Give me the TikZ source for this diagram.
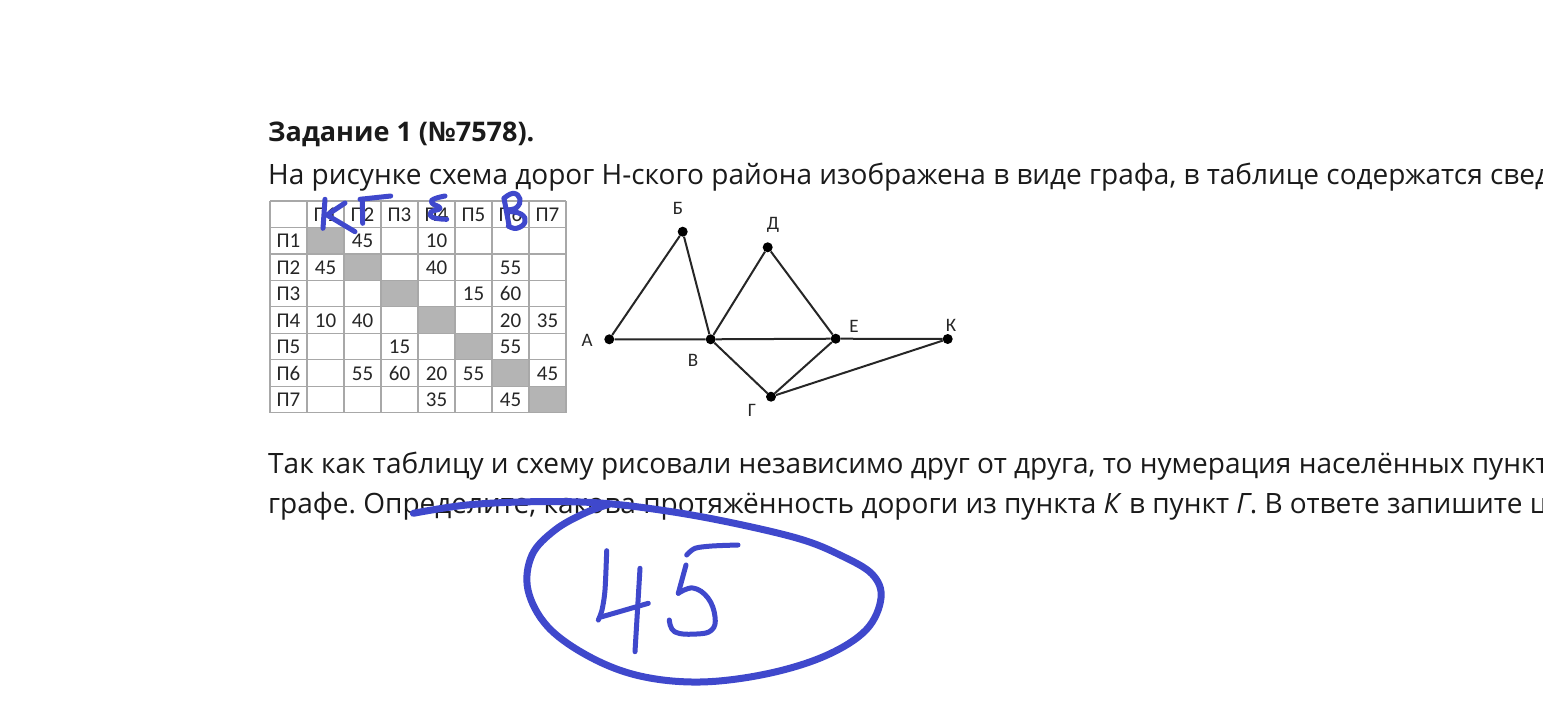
\documentclass[tikz,border=0pt]{standalone}
\usepackage{fontspec}
\setmainfont{Open Sans}
\newfontfamily\calib{Carlito}
\definecolor{ink}{HTML}{3F48CC}
\definecolor{tgray}{HTML}{A8A8A8}
\definecolor{cellgray}{HTML}{B4B4B4}
\definecolor{txt}{HTML}{1A1A1A}
\frenchspacing
\begin{document}
\begin{tikzpicture}[x=1pt,y=-1pt,
  body/.style={anchor=base west,inner sep=0pt,font=\fontsize{28}{30}\selectfont,text=txt},
  head/.style={anchor=base west,inner sep=0pt,font=\fontsize{27}{30}\selectfont\bfseries,text=txt},
  cell/.style={anchor=base,inner sep=0pt,font=\calib\fontsize{21}{22}\selectfont,text=black!85},
  dot/.style={circle,fill=black,inner sep=0pt,minimum size=10pt},
  lbl/.style={inner sep=0pt,font=\calib\fontsize{19}{20}\selectfont,text=black!85},
  edge/.style={line width=2pt,black!85},
  hand/.style={ink,line width=5pt,line cap=round,line join=round},
  bighand/.style={ink,line width=7pt,line cap=round,line join=round}]
\useasboundingbox (0,0) rectangle (1543,712);
\clip (0,0) rectangle (1543,712);
\fill[white] (0,0) rectangle (1543,712);

% texts
\node[head] (h) at (268,141) {Задание 1 (№7578).};
\node[body] (l1) at (268,184) {На рисунке схема дорог Н-ского района изображена в виде графа, в таблице содержатся сведения о длинах этих дорог (в километрах).};
\node[body] (l2) at (268,473) {Так как таблицу и схему рисовали независимо друг от друга, то нумерация населённых пунктов в таблице никак не связана с буквенными обозначениями на};
\node[body] (l3) at (268,513) {графе. Определите, какова протяжённость дороги из пункта \textit{К} в пункт \textit{Г}. В ответе запишите целое число.};

% table
\foreach \i in {1,...,7} \fill[cellgray] ({270+\i*37},{201+\i*26.45}) rectangle ++(37,26.45);
\foreach \i in {0,...,8} \draw[tgray,line width=1.2pt] ({270+\i*37},201) -- ({270+\i*37},412.6);
\foreach \j in {0,...,8} \draw[tgray,line width=1.2pt] (270,{201+\j*26.45}) -- (566,{201+\j*26.45});
\foreach \c in {1,...,7} \node[cell] (hc\c) at ({270+(\c+0.5)*37},221.5) {П\c};
\foreach \r in {1,...,7} \node[cell] (hr\r) at (288.5,{201+\r*26.45+20.5}) {П\r};
\foreach \r/\c/\v in {1/2/45,1/4/10,2/1/45,2/4/40,2/6/55,3/5/15,3/6/60,4/1/10,4/2/40,4/6/20,4/7/35,5/3/15,5/6/55,6/2/55,6/3/60,6/4/20,6/5/55,6/7/45,7/4/35,7/6/45}
  \node[cell] (v\r-\c) at ({270+(\c+0.5)*37},{201+\r*26.45+20.5}) {\v};

% graph
\node[dot] (A) at (609.3,339.3) {};
\node[dot] (Bb) at (682.7,231.7) {};
\node[dot] (V) at (710.7,339.3) {};
\node[dot] (D) at (767.7,247.3) {};
\node[dot] (E) at (835.7,338.7) {};
\node[dot] (K) at (947.7,339) {};
\node[dot] (G) at (771,396.7) {};
\draw[edge] (A) -- (Bb) -- (V) -- (D) -- (E) -- (K) -- (G) -- (V) -- (A);
\draw[edge] (V) -- (E) -- (G);
\node[lbl] (lA) at (587,340) {А};
\node[lbl] (lB) at (678,208) {Б};
\node[lbl] (lV) at (693,360) {В};
\node[lbl] (lG) at (752,410) {Г};
\node[lbl] (lD) at (773,225) {Д};
\node[lbl] (lE) at (854,326) {Е};
\node[lbl] (lK) at (951,325) {К};

% handwriting above table
\draw[hand] (325,199.3) -- (323,228.3);
\draw[hand] (345,203) -- (327,215) -- (355,231.7);
\draw[hand] (360,199.3) -- (390.7,196);
\draw[hand] (362.3,199.3) -- (362.7,223.3);
\draw[hand] plot[smooth,tension=0.8] coordinates {(445,196) (434,199) (432,203) (440,208.3) (431,212) (433,217.5) (446.7,219.3)};
\draw[hand] (504,198.3) -- (509.3,226.7);
\draw[hand] plot[smooth,tension=0.8] coordinates {(504,198.3) (513.3,193.3) (520,199) (516.7,207.5) (508.3,210.7) (521,214) (525,222) (516.7,228.3) (508.3,226)};

% answer
\draw[bighand] plot[smooth,tension=0.6] coordinates {(413.3,513.3) (466.7,505) (533,501.7) (600,503) (667,511) (733,523) (800,539) (840,555) (872,574) (881,598) (866,630) (825,656) (766,674) (700,682) (640,676) (590,657) (548,627) (528,590) (532,555) (555,530) (585,513) (610,504)};
\draw[hand] plot[smooth] coordinates {(606.7,550.7) (605,590) (602,610) (598.3,620)};
\draw[hand] (601,617) -- (648.3,603.3);
\draw[hand] (640,568.3) -- (635,651.7);
\draw[hand] plot[smooth] coordinates {(686.7,555) (695,548.3) (712,546) (738,545)};
\draw[hand] (686,565) -- (678.3,593.3);
\draw[hand] plot[smooth,tension=0.7] coordinates {(678.3,593.3) (693,588) (708,598) (715,616.7) (711.7,630) (696.7,634) (675,632) (669.3,620)};
\end{tikzpicture}
\end{document}
